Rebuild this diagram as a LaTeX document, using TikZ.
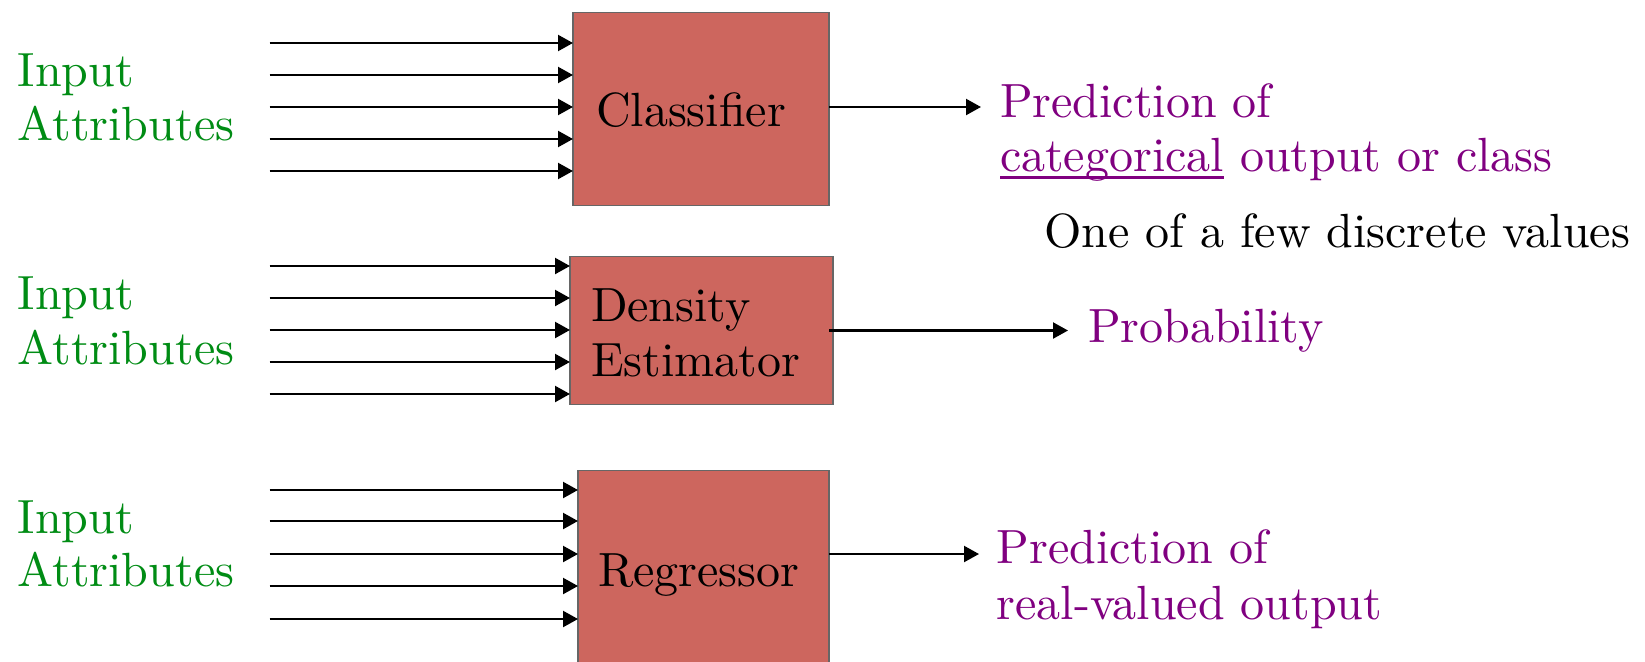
\documentclass[tikz,border=0pt]{standalone}
\usepackage{fontspec}
% Latin Modern Roman, always in its 10pt design (wider letters at large sizes)
\setmainfont{lmroman10-regular}[Extension=.otf]
\usetikzlibrary{arrows.meta}
\definecolor{boxred}{RGB}{205,102,94}
\definecolor{attrgreen}{RGB}{0,140,20}
\definecolor{outpurple}{RGB}{128,0,128}
% underline drawn through the descenders, close under the baseline
\newcommand\ulword[1]{\setbox0\hbox{#1}\rlap{\rule[-7.5pt]{\wd0}{2.6pt}}#1}
\begin{document}
\begin{tikzpicture}[x=1pt,y=-1pt,
  every node/.style={inner sep=0pt, outer sep=0pt},
  txt/.style={font=\fontsize{48}{55}\selectfont, anchor=base west},
  attr/.style={txt, text=attrgreen},
  outtxt/.style={txt, text=outpurple},
  blockbox/.style={draw=black!60, line width=1.1pt, fill=boxred, rectangle},
  feed/.style={line width=2.2pt, -{Triangle[length=15pt,width=16pt]}},
]
\useasboundingbox (0,0) rectangle (1645,661);
\clip (0,0) rectangle (1645,661);

% blocks
\node[blockbox, minimum width=256pt, minimum height=193pt] (cls) at (701,109) {};
\node[blockbox, minimum width=263pt, minimum height=148pt] (dens) at (701.5,330.5) {};
\node[blockbox, minimum width=251pt, minimum height=193pt] (reg) at (703.5,567) {};

\node[txt, anchor=base] (clsT) at (691,126) {Classifier};
\node[txt] (densT1) at (591,321) {Density};
\node[txt] (densT2) at (591,376) {Estimator};
\node[txt] (regT) at (598,586.5) {Regressor};

% input attribute lines
\foreach \y [count=\i] in {43,75,107,139,171}{
  \coordinate (ca\i) at (269.6,\y);
  \draw[feed] (ca\i) -- (ca\i -| cls.west);
}
\foreach \y [count=\i] in {266,298,330,362,394}{
  \coordinate (da\i) at (269.6,\y);
  \draw[feed] (da\i) -- (da\i -| dens.west);
}
\foreach \y [count=\i] in {490,521,554,586,619}{
  \coordinate (ra\i) at (269.6,\y);
  \draw[feed] (ra\i) -- (ra\i -| reg.west);
}

\node[attr] (in1a) at (17.8,86) {Input};
\node[attr] (in1b) at (17.8,140.6) {Attributes};
\node[attr] (in2a) at (17.8,309.5) {Input};
\node[attr] (in2b) at (17.8,364) {Attributes};
\node[attr] (in3a) at (17.8,533) {Input};
\node[attr] (in3b) at (17.8,586) {Attributes};

% outputs
\coordinate (clsOut) at (981,107);
\draw[feed] (cls.east |- clsOut) -- (clsOut);
\coordinate (densOut) at (1068,330.5);
\draw[feed] ([xshift=-4pt]dens.east |- densOut) -- (densOut);
\coordinate (regOut) at (979,554);
\draw[feed] (reg.east |- regOut) -- (regOut);

\node[outtxt] (p1a) at (1000,117.5) {Prediction of};
\node[outtxt] (p1b) at (1000,171) {\ulword{categorical} output or class};
\node[txt] (disc) at (1044,247.6) {One of a few discrete values};
\node[outtxt] (prob) at (1088,342) {Probability};
\node[outtxt] (p3a) at (996.6,563) {Prediction of};
\node[outtxt] (p3b) at (996.6,619) {real-valued output};
\end{tikzpicture}
\end{document}
